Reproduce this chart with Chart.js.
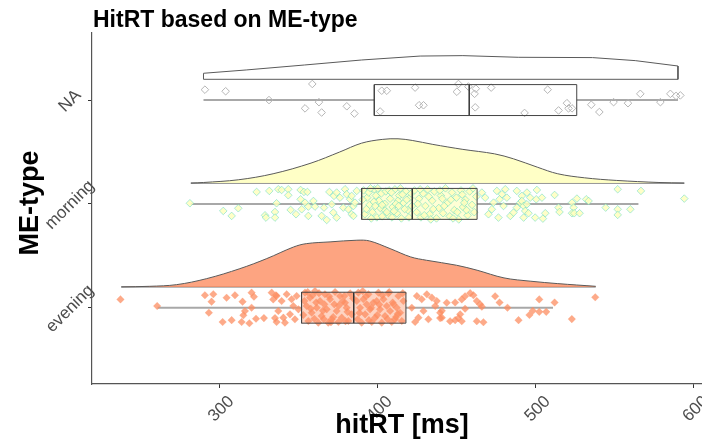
<!DOCTYPE html>
<html>
<head>
<meta charset="utf-8">
<script src="https://cdn.jsdelivr.net/npm/chart.js@4"></script>
<style>
  html, body { margin: 0; padding: 0; background: #fff; }
  #wrap { width: 702px; height: 439px; }
</style>
</head>
<body>
<div id="wrap"><canvas id="rainCanvas" width="702" height="439"></canvas></div>
<script>
// categories on the y axis (1, 2, 3)
const groups = ["evening", "morning", "NA"];
const xTicks = [300, 400, 500, 600];

// boxplot stats per group [ms]
const whiskLo = [261, 282, 290];
const boxQ1 = [352, 390, 398];
const boxMed = [385, 422, 458];
const boxQ3 = [418, 463, 526];
const whiskHi = [511, 565, 590];

// half-violin outlines (x in ms, height in category units)
const eveningDensX = [238, 256, 273, 292, 313, 330, 347, 355, 370, 387, 395, 408, 421, 431, 450, 463, 480, 497, 514, 538];
const eveningDensH = [0, 0.006, 0.022, 0.08, 0.176, 0.273, 0.385, 0.417, 0.434, 0.45, 0.443, 0.369, 0.289, 0.257, 0.209, 0.161, 0.087, 0.055, 0.032, 0.006];
const morningDensX = [282, 290, 312, 334, 358, 376, 390, 403, 413, 422, 435, 454, 474, 486, 501, 514, 531, 551, 578, 594];
const morningDensH = [0, 0.006, 0.032, 0.09, 0.193, 0.299, 0.385, 0.421, 0.427, 0.411, 0.373, 0.325, 0.282, 0.234, 0.154, 0.09, 0.051, 0.026, 0.006, 0];
const naDensX = [290, 290, 317, 354, 390, 427, 454, 489, 536, 563, 590, 590];
const naDensH = [0, 0.058, 0.09, 0.138, 0.186, 0.224, 0.228, 0.212, 0.209, 0.18, 0.128, 0];

// jittered raw observations: hitRT and vertical jitter
const eveningHit = [237.5, 260.7, 290.9, 296.2, 295.1, 293.4, 304.6, 309.9, 314.7, 302.1, 307.8, 314.1, 316.2, 315.2, 320.4, 321.9, 320.4, 319.0, 323.2, 328.2, 333.1, 334.1, 335.8, 335.2, 336.2,
  336.2, 339.4, 342.6, 345.7, 348.9, 337.3, 340.5, 344.7, 347.8, 350.0, 341.5, 346.8,
  354.2, 357.3, 360.5, 363.7, 366.8, 370.0, 373.2, 376.3, 379.5, 382.7, 355.2, 358.4, 361.6, 364.7, 367.9, 371.1, 374.2, 377.4, 380.5, 383.7, 356.3, 362.6, 368.9, 375.3, 381.6, 353.8, 360.1, 366.4, 372.7, 379.1,
  353.1, 359.0, 365.5, 369.4, 372.0, 377.9, 381.0, 384.6, 357.8, 363.0, 375.6, 370.6, 355.9, 366.0, 379.8, 361.2,
  387.9, 391.1, 394.3, 397.4, 400.6, 403.8, 406.9, 410.1, 413.2, 416.4, 389.0, 392.2, 395.3, 398.5, 401.6, 404.8, 408.0, 411.1, 414.3, 387.5, 390.0, 396.4, 402.7, 409.0, 415.4, 393.2, 399.5, 405.9, 412.2, 386.9,
  388.6, 392.8, 396.0, 399.9, 403.1, 406.3, 409.6, 412.8, 416.0, 390.7, 401.2, 407.4, 394.6, 411.7,
  421.7, 424.9, 428.0, 431.2, 434.4, 436.5, 439.6, 425.9, 432.2, 440.7, 423.8, 437.5, 429.1,
  443.8, 449.1, 453.3, 455.4, 458.6, 460.7, 462.8, 464.9, 466.0, 455.4, 452.3, 449.1, 445.9, 453.3, 451.2, 462.8, 467.0, 439.6, 440.7, 474.4, 477.2, 482.2, 489.2, 496.1, 498.2, 502.3, 502.3, 506.7, 512.0, 522.9, 537.7];
const eveningJit = [0.08, 0.016, 0.12, 0.13, 0.058, -0.048, 0.096, 0.12, 0.058, -0.138, -0.12, -0.138, -0.032, -0.073, 0.145, 0.106, 0.0, -0.15, -0.106, -0.1, 0.145, 0.08, 0.12, -0.1, -0.138,
  0.113, 0.064, 0.129, 0.081, 0.113, -0.032, -0.096, -0.064, -0.112, -0.016, -0.144, 0.016,
  0.145, 0.097, 0.161, 0.064, 0.129, 0.081, 0.151, 0.113, 0.048, 0.138, 0.016, -0.048, 0.0, -0.08, -0.016, -0.112, -0.032, -0.096, 0.0, -0.064, -0.128, -0.144, -0.144, -0.138, -0.128, 0.064, -0.106, 0.032, 0.032, 0.113,
  -0.07, 0.12, -0.03, 0.11, -0.09, 0.06, -0.04, 0.09, -0.01, 0.14, 0.02, -0.14, 0.15, -0.11, -0.13, 0.05,
  0.145, 0.081, 0.129, 0.048, 0.145, 0.081, 0.138, 0.032, 0.113, 0.064, 0.0, -0.064, -0.016, -0.096, -0.016, -0.08, -0.032, -0.112, -0.048, -0.112, -0.144, -0.138, -0.144, -0.138, -0.128, 0.032, 0.064, 0.016, 0.0, 0.064,
  -0.05, 0.11, 0.0, -0.07, 0.12, -0.11, 0.05, -0.06, 0.14, 0.16, 0.03, 0.15, -0.12, -0.09,
  0.0, 0.113, 0.081, 0.129, 0.097, 0.016, -0.048, -0.096, -0.112, -0.096, -0.138, 0.064, -0.032,
  0.048, 0.05, 0.08, 0.11, 0.14, 0.12, 0.064, 0.032, 0.01, -0.01, -0.064, -0.12, -0.13, -0.13, -0.1, -0.13, -0.14, -0.1, -0.03, 0.11, 0.05, 0.0, -0.12, -0.07, -0.03, 0.08, -0.04, -0.04, 0.05, -0.11, 0.10];

const morningHit = [281.4, 302.5, 307.8, 312.0, 323.6, 331.6, 337.3, 339.4, 343.6, 343.6, 336.2, 328.9, 329.5, 335.2, 335.2, 345.1, 348.5, 351.4, 353.5, 355.7, 351.4, 354.2, 356.3, 359.5, 352.1, 356.3, 360.5, 364.7, 367.9, 366.2, 369.6, 372.5, 374.2, 376.3, 379.5, 380.5, 382.7, 371.1, 374.2, 378.4, 381.6, 383.7, 384.8, 372.1,
  383.7, 384.8, 385.8, 386.9,
  391.2, 393.5, 395.0, 396.8, 398.1, 399.6, 401.0, 402.4, 403.9, 405.3, 406.7, 408.0, 409.6, 411.0, 412.3, 413.8, 415.1, 416.5, 417.9, 419.2, 420.6, 392.0, 394.4, 397.7, 400.2, 403.0, 404.6, 407.3, 410.4, 412.9, 414.5, 417.2, 419.9, 421.3, 390.6, 396.1, 399.0, 401.8, 405.9, 408.8, 411.6, 415.8, 418.5, 421.8, 395.6, 402.9, 409.2, 413.4, 393.0, 398.6,
  423.4, 424.8, 426.2, 427.5, 428.9, 430.3, 431.7, 433.0, 434.6, 436.0, 437.3, 438.8, 440.1, 441.5, 443.0, 444.4, 445.7, 447.1, 448.6, 449.9, 451.4, 452.8, 454.1, 455.6, 457.0, 458.3, 459.8, 461.2, 462.5, 425.5, 429.6, 432.4, 435.3, 439.4, 442.2, 446.4, 450.5, 453.6, 456.3, 460.4, 427.0, 433.7, 441.0, 447.8, 454.9,
  466.0, 468.1, 470.2, 472.3, 475.5, 477.2, 478.7, 480.8, 481.8, 484.0, 486.0, 488.1, 490.3, 492.4, 473.4, 479.7, 476.5, 488.1, 491.3,
  494.5, 500.8, 496.6, 500.4, 504.0, 491.3, 492.4, 494.5, 493.4, 495.5, 499.7, 504.6, 506.1, 512.0, 514.5, 515.1, 523.0, 526.1, 524.0, 523.0, 524.4, 527.8, 532.0, 533.5, 544.3, 551.9, 551.9, 551.9, 559.9, 566.6, 594.0];
const morningJit = [0.006, -0.068, -0.116, -0.042, 0.115, 0.125, 0.141, 0.134, 0.141, 0.083, 0.006, -0.11, -0.132, -0.078, -0.132, -0.058, -0.1, 0.134, 0.115, 0.115, 0.044, 0.012, -0.026, 0.028, -0.052, -0.116, -0.026, -0.116, -0.155, -0.036, 0.115, 0.077, 0.109, 0.06, 0.141, 0.093, 0.044, -0.004, -0.132, -0.036, -0.052, -0.1, -0.02, -0.084,
  0.077, -0.116, 0.012, 0.125,
  0.13, 0.06, -0.01, -0.08, 0.14, -0.13, 0.03, 0.10, -0.05, 0.12, -0.11, 0.05, -0.03, 0.14, -0.09, 0.08, -0.14, 0.01, 0.12, -0.06, 0.06, -0.10, 0.11, 0.02, 0.15, -0.12, 0.0, 0.13, -0.07, 0.03, 0.15, -0.05, -0.13, 0.10, 0.04, -0.14, 0.08, -0.04, -0.08, 0.11, 0.0, 0.09, 0.04, -0.02, 0.15, -0.01, -0.13, -0.02, -0.05, -0.02,
  0.13, -0.08, 0.05, -0.13, 0.10, -0.02, 0.14, -0.10, 0.03, 0.12, -0.14, -0.04, 0.08, -0.09, 0.15, 0.01, -0.12, 0.11, -0.06, 0.06, -0.15, 0.13, -0.03, 0.04, -0.11, 0.12, -0.01, -0.08, 0.07, 0.0, -0.11, 0.07, -0.05, 0.13, -0.02, 0.04, -0.08, 0.09, -0.06, 0.15, 0.14, -0.15, 0.05, -0.14, 0.01,
  0.109, 0.06, -0.1, -0.052, 0.125, 0.044, 0.093, 0.141, 0.06, -0.116, -0.084, -0.036, 0.012, -0.132, 0.012, -0.02, -0.132, 0.125, 0.077,
  0.109, 0.134, 0.06, 0.044, 0.06, 0.028, -0.02, -0.004, -0.068, -0.09, -0.132, -0.142, -0.09, 0.086, -0.036, -0.078, 0.012, 0.051, -0.036, -0.09, -0.09, -0.09, 0.044, 0.028, -0.036, 0.141, -0.052, -0.106, -0.052, 0.125, 0.051];

const naHit = [290.9, 304.0, 358.8, 331.4, 363.0, 354.2, 364.7, 380.6, 385.4, 402.7, 405.9, 401.7, 423.8, 426.3, 429.1, 451.2, 450.2, 457.5, 461.4, 462.2, 461.8, 471.9, 507.6, 493.0, 519.8, 520.8, 523.0, 514.5, 535.2, 540.3, 549.3, 558.4, 566.2, 578.9, 585.2, 588.8, 591.5];
const naJit = [0.10, 0.085, 0.155, 0.0, -0.02, -0.08, -0.12, -0.06, -0.13, 0.09, 0.09, -0.11, 0.12, -0.05, -0.05, 0.155, 0.08, 0.13, 0.06, 0.11, -0.07, 0.12, 0.10, -0.124, -0.03, -0.08, -0.08, -0.10, -0.045, -0.115, -0.02, -0.03, 0.06, -0.02, 0.06, 0.04, 0.045];

const BOX_H = 0.149;
const VIOLIN_GAP = 0.2;

function pts(xs, fn) {
  return xs.map((x, i) => ({ x: x, y: fn(i) }));
}

function violin(xs, hs, g, fillColor, order) {
  const base = g + 1 + VIOLIN_GAP;
  return [
    {
      data: pts(xs, (i) => base + hs[i]),
      borderColor: "#5a5a5a",
      borderWidth: 1,
      backgroundColor: fillColor,
      fill: { value: base },
      pointRadius: 0,
      tension: g === 2 ? 0 : 0.35,
      order: order,
    },
    {
      data: [{ x: xs[0], y: base }, { x: xs[xs.length - 1], y: base }],
      borderColor: "#5a5a5a",
      borderWidth: 1,
      pointRadius: 0,
      fill: false,
      order: order,
    },
  ];
}

function boxplot(g, fillColor) {
  const y = g + 1;
  const rect = [
    { x: boxQ1[g], y: y - BOX_H }, { x: boxQ3[g], y: y - BOX_H },
    { x: boxQ3[g], y: y + BOX_H }, { x: boxQ1[g], y: y + BOX_H },
    { x: boxQ1[g], y: y - BOX_H },
  ];
  const out = [];
  out.push({ data: [{ x: whiskLo[g], y: y }, { x: boxQ1[g], y: y }], borderColor: "#a8a8a8", borderWidth: 2, pointRadius: 0, fill: false, order: 3 });
  out.push({ data: [{ x: boxQ3[g], y: y }, { x: whiskHi[g], y: y }], borderColor: "#a8a8a8", borderWidth: 2, pointRadius: 0, fill: false, order: 3 });
  if (fillColor) {
    out.push({ data: rect, borderWidth: 0, borderColor: "rgba(0,0,0,0)", backgroundColor: fillColor, fill: "shape", pointRadius: 0, order: 4 });
  }
  out.push({ data: rect, borderColor: "#444", borderWidth: 1, pointRadius: 0, fill: false, order: 0 });
  out.push({ data: [{ x: boxMed[g], y: y - BOX_H }, { x: boxMed[g], y: y + BOX_H }], borderColor: "#333", borderWidth: 1.5, pointRadius: 0, fill: false, order: 0 });
  return out;
}

const datasets = [
  ...violin(eveningDensX, eveningDensH, 0, "rgba(252,141,98,0.8)", 6),
  ...violin(morningDensX, morningDensH, 1, "rgba(255,255,195,0.95)", 6),
  ...violin(naDensX, naDensH, 2, "rgba(255,255,255,0)", 6),
  ...boxplot(0, "rgba(252,141,98,0.38)"),
  ...boxplot(1, "rgba(255,255,179,0.55)"),
  ...boxplot(2, null),
  {
    type: "scatter",
    data: pts(eveningHit, (i) => 1 + eveningJit[i]),
    pointStyle: "rectRot",
    pointRadius: 3.8,
    backgroundColor: "rgba(252,141,98,0.75)",
    borderColor: "rgba(252,141,98,0.45)",
    borderWidth: 0.5,
    order: 2,
  },
  {
    type: "scatter",
    data: pts(morningHit, (i) => 2 + morningJit[i]),
    pointStyle: "rectRot",
    pointRadius: 3.8,
    backgroundColor: "rgba(255,255,190,0.85)",
    borderColor: "rgba(90,215,195,0.5)",
    borderWidth: 1,
    order: 2,
  },
  {
    type: "scatter",
    data: pts(naHit, (i) => 3 + naJit[i]),
    pointStyle: "rectRot",
    pointRadius: 3.8,
    backgroundColor: "rgba(255,255,255,0)",
    borderColor: "#b5b5b5",
    borderWidth: 1,
    order: 2,
  },
];

const FONT = "'Liberation Sans', Arial, sans-serif";

const textPlugin = {
  id: "raincloud_text",
  afterDraw: (chart) => {
    const { ctx, chartArea } = chart;
    const xs = chart.scales.x;
    const ys = chart.scales.y;
    ctx.save();
    // title
    ctx.fillStyle = "#000";
    ctx.font = "bold 23px " + FONT;
    ctx.textAlign = "left";
    ctx.textBaseline = "alphabetic";
    ctx.fillText("HitRT based on ME-type", chartArea.left + 1, 27);
    // x tick labels
    ctx.fillStyle = "#4d4d4d";
    ctx.font = "17px " + FONT;
    ctx.textAlign = "center";
    ctx.textBaseline = "middle";
    xTicks.forEach((v) => {
      ctx.save();
      ctx.translate(xs.getPixelForValue(v) + 2, chartArea.bottom + 25);
      ctx.rotate(-Math.PI / 4);
      ctx.fillText(String(v), 0, 0);
      ctx.restore();
    });
    // y tick labels
    groups.forEach((name, i) => {
      ctx.save();
      ctx.translate(chartArea.left - 22, ys.getPixelForValue(i + 1) + 1);
      ctx.rotate(-Math.PI / 4);
      ctx.fillText(name, 0, 0);
      ctx.restore();
    });
    // axis titles
    ctx.fillStyle = "#000";
    ctx.font = "bold 27px " + FONT;
    ctx.textBaseline = "alphabetic";
    ctx.fillText("hitRT [ms]", 402, 433);
    ctx.save();
    ctx.translate(38, 203);
    ctx.rotate(-Math.PI / 2);
    ctx.fillText("ME-type", 0, 0);
    ctx.restore();
    ctx.restore();
  },
};

const config = {
  type: "line",
  data: { datasets: datasets },
  options: {
    responsive: false,
    animation: false,
    layout: { autoPadding: false, padding: { top: 33, right: 0, left: 0, bottom: 0 } },
    plugins: {
      legend: { display: false },
      tooltip: { enabled: false },
      title: { display: false },
    },
    scales: {
      x: {
        type: "linear",
        min: 219.5,
        max: 605.2,
        afterBuildTicks: (scale) => {
          scale.ticks = xTicks.map((v) => ({ value: v }));
        },
        afterFit: (scale) => {
          scale.height = 55;
        },
        ticks: { display: false },
        grid: { display: true, drawOnChartArea: false, drawTicks: true, tickLength: 4, color: "#333" },
        border: { display: true, color: "#555", width: 1.2 },
      },
      y: {
        type: "linear",
        min: 0.265,
        max: 3.646,
        afterBuildTicks: (scale) => {
          scale.ticks = groups.map((g, i) => ({ value: i + 1 }));
        },
        afterFit: (scale) => {
          scale.width = 92;
        },
        ticks: { display: false },
        grid: { display: true, drawOnChartArea: false, drawTicks: true, tickLength: 4, color: "#333" },
        border: { display: true, color: "#555", width: 1.2 },
      },
    },
  },
  plugins: [textPlugin],
};

const canvas = document.getElementById("rainCanvas");
if (canvas) {
  new Chart(canvas.getContext("2d"), config);
} else {
  console.error("canvas not found");
}
</script>
</body>
</html>
